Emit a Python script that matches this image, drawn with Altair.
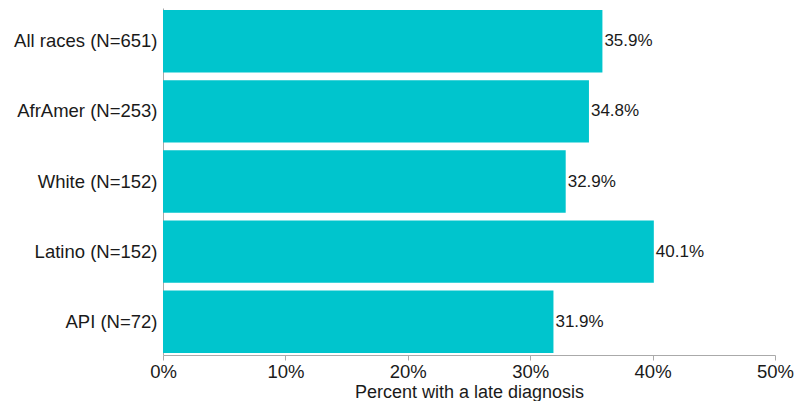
import altair as alt
import pandas as pd

groups = ["All races (N=651)", "AfrAmer (N=253)", "White (N=152)", "Latino (N=152)", "API (N=72)"]
values = [35.9, 34.8, 32.9, 40.1, 31.9]
labels = ["35.9%", "34.8%", "32.9%", "40.1%", "31.9%"]

df = pd.DataFrame({"group": groups, "value": [v / 100 for v in values], "label": labels})

FONT = "Liberation Sans"

y = alt.Y("group:N", sort=groups, title=None,
          scale=alt.Scale(paddingInner=0.11, paddingOuter=0.03),
          axis=alt.Axis(ticks=False, labelPadding=6, labelFontSize=18.5, labelColor="#1a1a1a",
                        domainColor="#aaaaaa", labelFont=FONT, labelLimit=300))
x = alt.X("value:Q", title="Percent with a late diagnosis",
          scale=alt.Scale(domain=[0, 0.5], nice=False),
          axis=alt.Axis(format=".0%", values=[0, 0.1, 0.2, 0.3, 0.4, 0.5], grid=False,
                        labelFlush=False, labelOverlap=False,
                        tickSize=5, tickColor="#aaaaaa", domainColor="#aaaaaa",
                        labelFontSize=18.5, labelColor="#1a1a1a", labelFont=FONT, labelPadding=2,
                        titleFontSize=18, titleFont=FONT, titleFontWeight="normal",
                        titleColor="#1a1a1a", titlePadding=3))

bars = alt.Chart(df).mark_bar(color="#00C5CD").encode(x=x, y=y)
text = alt.Chart(df).mark_text(align="left", baseline="middle", dx=2, fontSize=17,
                               font=FONT, color="#1a1a1a").encode(x=x, y=y, text="label:N")

chart = (bars + text).properties(
    width=612, height=347,
    autosize=alt.AutoSizeParams(type="none"),
    padding={"left": 155, "top": 0, "right": 20, "bottom": 46},
).configure_view(stroke=None)

chart.save("out.html", embed_options={"renderer": "svg", "actions": False})
